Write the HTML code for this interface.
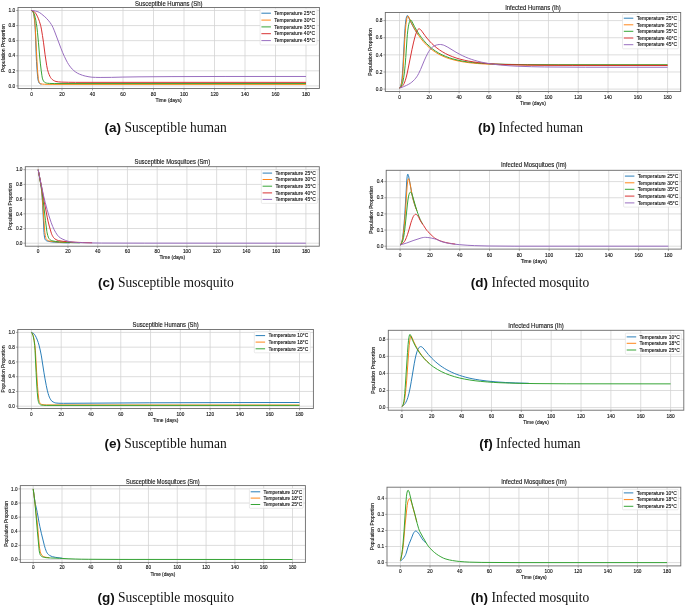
<!DOCTYPE html>
<html><head><meta charset="utf-8"><style>
html,body{margin:0;padding:0;background:#fff;width:685px;height:606px;overflow:hidden}
svg{display:block;font-family:"Liberation Sans",sans-serif;will-change:transform}
svg text{fill:#111}
svg g text{stroke:#111;stroke-width:0.11px}
</style></head><body>
<svg width="685" height="606" viewBox="0 0 685 606">
<rect width="685" height="606" fill="#fff"/>
<g><path d="M31.5 7.5V88.5M62 7.5V88.5M92.5 7.5V88.5M123 7.5V88.5M153.5 7.5V88.5M184 7.5V88.5M214.5 7.5V88.5M245 7.5V88.5M275.5 7.5V88.5M306 7.5V88.5M18 85.9H319.4M18 70.82H319.4M18 55.74H319.4M18 40.66H319.4M18 25.58H319.4M18 10.5H319.4" stroke="#d2d2d2" stroke-width="0.75" fill="none"/>
<path d="M31.50,10.50 31.96,10.67 32.41,11.11 33.02,12.01 33.33,12.79 33.71,14.41 34.09,16.53 34.63,20.93 35.01,25.58 35.24,29.64 35.69,40.66 36.15,53.94 36.53,61.70 37.14,70.82 37.60,76.23 37.91,78.97 38.06,79.87 38.44,81.42 38.74,82.34 39.05,82.94 39.58,83.47 40.12,83.83 40.57,84.00 41.49,84.15" stroke="#1f77b4" stroke-width="0.95" fill="none" stroke-linejoin="round"/>
<path d="M31.50,10.50 31.96,10.67 32.41,11.13 33.10,12.14 33.41,12.89 33.79,14.29 34.24,16.53 34.70,20.16 35.31,27.97 36.46,51.36 37.30,67.03 37.75,73.21 38.29,78.50 38.44,79.49 38.74,80.80 39.05,81.83 39.35,82.55 39.58,82.88 40.12,83.35 40.65,83.68 41.18,83.89 42.78,84.15 44.54,84.29 52.09,84.39 306.00,84.39" stroke="#ff7f0e" stroke-width="0.95" fill="none" stroke-linejoin="round"/>
<path d="M31.50,10.50 31.80,10.56 32.19,10.79 33.10,11.72 33.63,12.63 34.17,13.93 34.78,15.77 35.24,17.56 35.77,20.13 36.38,23.63 36.91,27.23 37.52,32.72 38.44,42.32 39.51,54.94 40.42,63.91 41.18,70.26 41.95,75.75 42.33,77.96 42.56,78.89 43.01,80.04 43.47,80.95 44.01,81.74 44.39,82.12 44.92,82.45 45.76,82.84 46.52,83.09 47.44,83.25 49.57,83.41 54.22,83.56 306.00,83.56" stroke="#2ca02c" stroke-width="0.95" fill="none" stroke-linejoin="round"/>
<path d="M31.50,10.50 32.11,10.58 32.72,10.81 33.41,11.19 34.24,11.78 34.70,12.13 35.08,12.53 36.00,13.84 37.30,16.18 38.44,18.75 39.51,21.70 40.57,25.30 40.95,26.84 41.41,29.10 42.48,35.59 43.55,42.81 45.07,54.70 46.67,65.29 47.51,69.67 48.43,72.72 49.11,74.56 49.88,76.27 50.56,77.50 51.33,78.54 52.24,79.49 53.23,80.25 54.68,81.01 55.98,81.49 58.49,81.88 61.39,82.11 68.33,82.28 75.50,82.35 306.00,82.36" stroke="#d62728" stroke-width="0.95" fill="none" stroke-linejoin="round"/>
<path d="M31.50,10.50 33.41,10.64 35.54,11.07 37.91,11.73 39.35,12.43 41.34,13.83 44.77,16.71 46.83,18.71 48.73,20.87 50.11,22.65 51.40,24.54 52.16,25.82 52.93,27.36 54.38,30.85 61.16,48.84 62.69,52.67 64.44,56.55 66.12,60.03 67.49,62.62 68.79,64.76 70.54,67.16 72.29,69.19 73.82,70.63 75.80,72.14 77.71,73.31 79.69,74.23 82.51,75.29 85.18,76.06 88.99,76.81 91.89,77.21 95.55,77.38 100.12,77.46 111.56,77.37 122.24,77.09 139.01,76.84 171.04,76.60 225.94,76.48 306.00,76.48" stroke="#9467bd" stroke-width="0.95" fill="none" stroke-linejoin="round"/>
<rect x="18" y="7.5" width="301.4" height="81" fill="none" stroke="#6a6a6a" stroke-width="0.9"/>
<path d="M31.5 88.5v1.8M62 88.5v1.8M92.5 88.5v1.8M123 88.5v1.8M153.5 88.5v1.8M184 88.5v1.8M214.5 88.5v1.8M245 88.5v1.8M275.5 88.5v1.8M306 88.5v1.8M18 85.9h-1.8M18 70.82h-1.8M18 55.74h-1.8M18 40.66h-1.8M18 25.58h-1.8M18 10.5h-1.8" stroke="#6a6a6a" stroke-width="0.6"/>
<text x="31.5" y="95.5" text-anchor="middle" font-size="4.85">0</text>
<text x="62" y="95.5" text-anchor="middle" font-size="4.85">20</text>
<text x="92.5" y="95.5" text-anchor="middle" font-size="4.85">40</text>
<text x="123" y="95.5" text-anchor="middle" font-size="4.85">60</text>
<text x="153.5" y="95.5" text-anchor="middle" font-size="4.85">80</text>
<text x="184" y="95.5" text-anchor="middle" font-size="4.85">100</text>
<text x="214.5" y="95.5" text-anchor="middle" font-size="4.85">120</text>
<text x="245" y="95.5" text-anchor="middle" font-size="4.85">140</text>
<text x="275.5" y="95.5" text-anchor="middle" font-size="4.85">160</text>
<text x="306" y="95.5" text-anchor="middle" font-size="4.85">180</text>
<text x="15.2" y="87.6" text-anchor="end" font-size="4.85">0.0</text>
<text x="15.2" y="72.52" text-anchor="end" font-size="4.85">0.2</text>
<text x="15.2" y="57.44" text-anchor="end" font-size="4.85">0.4</text>
<text x="15.2" y="42.36" text-anchor="end" font-size="4.85">0.6</text>
<text x="15.2" y="27.28" text-anchor="end" font-size="4.85">0.8</text>
<text x="15.2" y="12.2" text-anchor="end" font-size="4.85">1.0</text>
<text x="168.7" y="5.5" text-anchor="middle" font-size="6.6" textLength="67.5" lengthAdjust="spacingAndGlyphs">Susceptible Humans (Sh)</text>
<text x="168.7" y="101.6" text-anchor="middle" font-size="5">Time (days)</text>
<text transform="translate(4.6 48) rotate(-90)" text-anchor="middle" font-size="5">Population Proportion</text>
<rect x="260.1" y="8.8" width="56.9" height="36.2" rx="1" fill="#fff" fill-opacity="0.85" stroke="#dcdcdc" stroke-width="0.6"/>
<path d="M261.4 13.2H270.9" stroke="#1f77b4" stroke-width="0.95"/>
<text x="274.3" y="14.95" font-size="4.9" textLength="40.8" lengthAdjust="spacingAndGlyphs">Temperature 25°C</text>
<path d="M261.4 20.1H270.9" stroke="#ff7f0e" stroke-width="0.95"/>
<text x="274.3" y="21.85" font-size="4.9" textLength="40.8" lengthAdjust="spacingAndGlyphs">Temperature 30°C</text>
<path d="M261.4 26.9H270.9" stroke="#2ca02c" stroke-width="0.95"/>
<text x="274.3" y="28.65" font-size="4.9" textLength="40.8" lengthAdjust="spacingAndGlyphs">Temperature 35°C</text>
<path d="M261.4 33.7H270.9" stroke="#d62728" stroke-width="0.95"/>
<text x="274.3" y="35.45" font-size="4.9" textLength="40.8" lengthAdjust="spacingAndGlyphs">Temperature 40°C</text>
<path d="M261.4 40.6H270.9" stroke="#9467bd" stroke-width="0.95"/>
<text x="274.3" y="42.35" font-size="4.9" textLength="40.8" lengthAdjust="spacingAndGlyphs">Temperature 45°C</text></g>
<g><path d="M399.5 12.5V91.5M429.29 12.5V91.5M459.08 12.5V91.5M488.87 12.5V91.5M518.66 12.5V91.5M548.44 12.5V91.5M578.23 12.5V91.5M608.02 12.5V91.5M637.81 12.5V91.5M667.6 12.5V91.5M385.3 89.1H680.7M385.3 71.97H680.7M385.3 54.85H680.7M385.3 37.72H680.7M385.3 20.6H680.7" stroke="#d2d2d2" stroke-width="0.75" fill="none"/>
<path d="M399.50,88.06 399.87,87.74 400.24,87.15 400.62,86.27 400.99,85.06 401.59,82.12 402.03,78.47 402.48,73.12 402.93,66.21 404.34,39.27 405.01,28.71 405.38,24.36 405.76,21.06 406.20,18.28 406.65,16.53 406.95,15.83 407.25,15.50 407.39,15.47 407.54,15.53 407.84,15.88 410.60,21.74 412.90,26.24 415.44,30.69 417.97,34.67" stroke="#1f77b4" stroke-width="0.95" fill="none" stroke-linejoin="round"/>
<path d="M399.50,88.10 399.95,87.79 400.32,87.31 400.77,86.42 401.14,85.41 401.73,83.00 402.18,80.00 402.63,75.54 403.15,68.51 404.79,39.23 405.16,33.45 405.61,27.78 406.13,22.82 406.72,19.03 407.02,17.78 407.32,16.90 407.69,16.24 407.99,16.06 408.14,16.08 408.36,16.26 408.73,16.87 411.34,22.65 414.02,27.89 416.18,31.65 418.42,35.15 420.87,38.57 423.48,41.79 426.38,44.92 429.21,47.57 432.27,50.05 435.62,52.34 439.04,54.36 442.54,56.06 446.27,57.61 449.77,58.81 454.98,60.24 459.82,61.30 464.29,62.04 468.76,62.66 473.23,63.17 477.70,63.54 485.14,64.02 491.85,64.35 497.06,64.53 508.23,64.77 524.61,64.98 554.40,65.09 667.60,65.12" stroke="#ff7f0e" stroke-width="0.95" fill="none" stroke-linejoin="round"/>
<path d="M399.50,88.08 400.17,87.71 400.77,87.08 401.36,86.15 401.96,84.87 402.40,83.61 402.85,81.96 403.67,77.74 404.49,71.82 405.16,65.28 405.76,57.58 407.02,38.69 407.39,34.28 407.84,30.13 408.44,26.12 408.81,24.26 409.18,22.79 409.55,21.65 409.93,20.83 410.30,20.31 410.67,20.10 410.89,20.12 411.12,20.25 411.64,20.91 414.39,26.32 416.55,30.19 419.01,34.11 421.54,37.69 424.08,40.85 426.61,43.64 429.36,46.31 432.19,48.69 435.25,50.93 438.60,53.00 442.02,54.83 445.60,56.41 449.32,57.81 452.90,58.91 458.04,60.20 462.80,61.16 467.27,61.85 472.48,62.51 476.95,62.96 481.42,63.29 488.87,63.74 495.57,64.04 511.95,64.43 527.59,64.62 558.13,64.74 667.60,64.78" stroke="#2ca02c" stroke-width="0.95" fill="none" stroke-linejoin="round"/>
<path d="M399.50,87.92 400.47,87.57 401.29,87.11 402.11,86.43 402.85,85.59 403.52,84.59 404.12,83.47 404.71,82.09 405.31,80.43 406.28,77.08 407.25,73.01 411.94,49.67 413.43,42.94 414.69,37.84 415.88,33.79 416.41,32.33 416.93,31.11 417.45,30.14 417.97,29.44 418.49,29.01 419.01,28.84 419.46,28.89 419.91,29.10 420.43,29.50 420.95,30.04 421.92,31.27 425.04,35.67 426.91,38.08 429.36,40.95 431.90,43.59 434.35,45.88 436.89,47.97 439.57,49.95 442.32,51.74 445.52,53.54 448.95,55.22 452.38,56.64 456.10,57.97 459.82,59.09 464.29,60.20 468.76,61.12 473.23,61.87 478.44,62.58 483.65,63.15 488.12,63.54 494.82,63.99 500.78,64.32 506.74,64.57 525.36,65.03 541.00,65.23 572.28,65.39 667.60,65.46" stroke="#d62728" stroke-width="0.95" fill="none" stroke-linejoin="round"/>
<path d="M399.50,88.07 400.99,87.68 403.30,86.79 406.50,85.38 408.73,84.24 410.30,83.27 411.79,82.17 413.20,80.93 414.54,79.56 415.73,78.16 416.78,76.76 417.75,75.23 418.64,73.60 420.58,69.47 424.15,60.89 425.94,56.86 427.80,53.19 428.69,51.65 429.59,50.29 430.55,49.02 431.60,47.89 432.71,46.90 433.76,46.18 434.95,45.57 436.29,45.09 437.78,44.71 439.19,44.51 440.61,44.51 442.02,44.71 443.44,45.09 444.85,45.66 447.83,47.23 456.02,52.24 459.82,54.35 462.80,55.83 465.78,57.18 468.76,58.39 471.74,59.45 474.72,60.40 477.70,61.23 481.42,62.13 485.14,62.92 488.12,63.45 492.59,64.11 497.06,64.68 500.78,65.08 508.97,65.75 517.17,66.22 531.32,66.69 544.72,66.96 585.68,67.22 667.60,67.26" stroke="#9467bd" stroke-width="0.95" fill="none" stroke-linejoin="round"/>
<rect x="385.3" y="12.5" width="295.4" height="79" fill="none" stroke="#6a6a6a" stroke-width="0.9"/>
<path d="M399.5 91.5v1.8M429.29 91.5v1.8M459.08 91.5v1.8M488.87 91.5v1.8M518.66 91.5v1.8M548.44 91.5v1.8M578.23 91.5v1.8M608.02 91.5v1.8M637.81 91.5v1.8M667.6 91.5v1.8M385.3 89.1h-1.8M385.3 71.97h-1.8M385.3 54.85h-1.8M385.3 37.72h-1.8M385.3 20.6h-1.8" stroke="#6a6a6a" stroke-width="0.6"/>
<text x="399.5" y="98.6" text-anchor="middle" font-size="4.8">0</text>
<text x="429.29" y="98.6" text-anchor="middle" font-size="4.8">20</text>
<text x="459.08" y="98.6" text-anchor="middle" font-size="4.8">40</text>
<text x="488.87" y="98.6" text-anchor="middle" font-size="4.8">60</text>
<text x="518.66" y="98.6" text-anchor="middle" font-size="4.8">80</text>
<text x="548.44" y="98.6" text-anchor="middle" font-size="4.8">100</text>
<text x="578.23" y="98.6" text-anchor="middle" font-size="4.8">120</text>
<text x="608.02" y="98.6" text-anchor="middle" font-size="4.8">140</text>
<text x="637.81" y="98.6" text-anchor="middle" font-size="4.8">160</text>
<text x="667.6" y="98.6" text-anchor="middle" font-size="4.8">180</text>
<text x="382.5" y="90.8" text-anchor="end" font-size="4.8">0.0</text>
<text x="382.5" y="73.67" text-anchor="end" font-size="4.8">0.2</text>
<text x="382.5" y="56.55" text-anchor="end" font-size="4.8">0.4</text>
<text x="382.5" y="39.42" text-anchor="end" font-size="4.8">0.6</text>
<text x="382.5" y="22.3" text-anchor="end" font-size="4.8">0.8</text>
<text x="533" y="9.5" text-anchor="middle" font-size="6.53" textLength="55.7" lengthAdjust="spacingAndGlyphs">Infected Humans (Ih)</text>
<text x="533" y="104.8" text-anchor="middle" font-size="4.95">Time (days)</text>
<text transform="translate(371.8 52) rotate(-90)" text-anchor="middle" font-size="4.95">Population Proportion</text>
<rect x="622.5" y="14.3" width="55.9" height="34.5" rx="1" fill="#fff" fill-opacity="0.85" stroke="#dcdcdc" stroke-width="0.6"/>
<path d="M623.8 18.2H633.3" stroke="#1f77b4" stroke-width="0.95"/>
<text x="636.7" y="19.95" font-size="4.85" textLength="40.4" lengthAdjust="spacingAndGlyphs">Temperature 25°C</text>
<path d="M623.8 24.8H633.3" stroke="#ff7f0e" stroke-width="0.95"/>
<text x="636.7" y="26.55" font-size="4.85" textLength="40.4" lengthAdjust="spacingAndGlyphs">Temperature 30°C</text>
<path d="M623.8 31.3H633.3" stroke="#2ca02c" stroke-width="0.95"/>
<text x="636.7" y="33.05" font-size="4.85" textLength="40.4" lengthAdjust="spacingAndGlyphs">Temperature 35°C</text>
<path d="M623.8 38H633.3" stroke="#d62728" stroke-width="0.95"/>
<text x="636.7" y="39.75" font-size="4.85" textLength="40.4" lengthAdjust="spacingAndGlyphs">Temperature 40°C</text>
<path d="M623.8 44.7H633.3" stroke="#9467bd" stroke-width="0.95"/>
<text x="636.7" y="46.45" font-size="4.85" textLength="40.4" lengthAdjust="spacingAndGlyphs">Temperature 45°C</text></g>
<g><path d="M38.2 166.7V246.2M67.94 166.7V246.2M97.69 166.7V246.2M127.43 166.7V246.2M157.18 166.7V246.2M186.92 166.7V246.2M216.67 166.7V246.2M246.41 166.7V246.2M276.16 166.7V246.2M305.9 166.7V246.2M25.3 243.2H319.3M25.3 228.5H319.3M25.3 213.8H319.3M25.3 199.1H319.3M25.3 184.4H319.3M25.3 169.7H319.3" stroke="#d2d2d2" stroke-width="0.75" fill="none"/>
<path d="M38.20,169.70 40.65,183.67 41.25,187.83 41.69,191.73 42.14,197.12 42.66,205.25 44.00,232.64 44.15,234.38 44.52,237.18 44.74,238.30 45.04,239.15 45.34,239.73 45.71,240.22 46.08,240.50 46.68,240.80 48.16,241.26 51.36,241.90 54.19,242.19 59.62,242.54 64.45,242.75 69.80,242.86" stroke="#1f77b4" stroke-width="0.95" fill="none" stroke-linejoin="round"/>
<path d="M38.20,169.70 40.65,183.76 41.40,188.35 41.77,191.16 42.29,197.18 44.67,230.78 44.89,232.76 45.34,235.59 45.71,237.44 46.01,238.48 46.23,238.94 46.60,239.41 47.05,239.88 47.57,240.30 48.54,240.78 50.02,241.15 52.33,241.50 57.31,241.98 61.92,242.33 66.38,242.56" stroke="#ff7f0e" stroke-width="0.95" fill="none" stroke-linejoin="round"/>
<path d="M38.20,169.70 40.80,184.29 41.69,188.78 41.99,190.62 45.49,220.67 46.83,231.36 47.12,232.93 47.79,235.55 48.31,237.14 48.83,238.28 49.28,238.89 49.95,239.59 50.54,240.07 51.14,240.42 51.66,240.62 52.92,240.95 55.45,241.43 59.69,241.88 67.13,242.40 73.15,242.67 79.84,242.82" stroke="#2ca02c" stroke-width="0.95" fill="none" stroke-linejoin="round"/>
<path d="M38.20,169.70 39.76,177.78 41.25,184.91 44.15,201.19 47.20,217.11 48.02,221.05 49.28,226.08 51.36,233.27 51.81,234.46 52.25,235.37 52.92,236.57 53.59,237.58 54.19,238.28 54.86,238.84 55.97,239.57 57.09,240.13 58.57,240.61 62.07,241.20 66.98,241.70 75.75,242.26 82.67,242.55 92.11,242.77" stroke="#d62728" stroke-width="0.95" fill="none" stroke-linejoin="round"/>
<path d="M38.20,169.70 40.13,179.55 42.29,189.83 43.78,196.54 45.19,202.32 47.12,209.54 48.98,215.88 51.06,222.25 52.70,226.51 54.11,229.65 55.67,232.45 57.31,234.98 57.98,235.83 58.65,236.55 60.29,237.84 62.14,238.92 65.49,240.40 68.09,241.29 69.58,241.63 72.33,242.04 75.01,242.33 77.69,242.52 88.25,242.89 101.41,243.05 144.54,243.15 305.90,243.20" stroke="#9467bd" stroke-width="0.95" fill="none" stroke-linejoin="round"/>
<rect x="25.3" y="166.7" width="294" height="79.5" fill="none" stroke="#6a6a6a" stroke-width="0.9"/>
<path d="M38.2 246.2v1.8M67.94 246.2v1.8M97.69 246.2v1.8M127.43 246.2v1.8M157.18 246.2v1.8M186.92 246.2v1.8M216.67 246.2v1.8M246.41 246.2v1.8M276.16 246.2v1.8M305.9 246.2v1.8M25.3 243.2h-1.8M25.3 228.5h-1.8M25.3 213.8h-1.8M25.3 199.1h-1.8M25.3 184.4h-1.8M25.3 169.7h-1.8" stroke="#6a6a6a" stroke-width="0.6"/>
<text x="38.2" y="252.8" text-anchor="middle" font-size="4.78">0</text>
<text x="67.94" y="252.8" text-anchor="middle" font-size="4.78">20</text>
<text x="97.69" y="252.8" text-anchor="middle" font-size="4.78">40</text>
<text x="127.43" y="252.8" text-anchor="middle" font-size="4.78">60</text>
<text x="157.18" y="252.8" text-anchor="middle" font-size="4.78">80</text>
<text x="186.92" y="252.8" text-anchor="middle" font-size="4.78">100</text>
<text x="216.67" y="252.8" text-anchor="middle" font-size="4.78">120</text>
<text x="246.41" y="252.8" text-anchor="middle" font-size="4.78">140</text>
<text x="276.16" y="252.8" text-anchor="middle" font-size="4.78">160</text>
<text x="305.9" y="252.8" text-anchor="middle" font-size="4.78">180</text>
<text x="22.5" y="244.9" text-anchor="end" font-size="4.78">0.0</text>
<text x="22.5" y="230.2" text-anchor="end" font-size="4.78">0.2</text>
<text x="22.5" y="215.5" text-anchor="end" font-size="4.78">0.4</text>
<text x="22.5" y="200.8" text-anchor="end" font-size="4.78">0.6</text>
<text x="22.5" y="186.1" text-anchor="end" font-size="4.78">0.8</text>
<text x="22.5" y="171.4" text-anchor="end" font-size="4.78">1.0</text>
<text x="172.3" y="164.2" text-anchor="middle" font-size="6.5" textLength="75.6" lengthAdjust="spacingAndGlyphs">Susceptible Mosquitoes (Sm)</text>
<text x="172.3" y="259.2" text-anchor="middle" font-size="4.92">Time (days)</text>
<text transform="translate(11.8 206.45) rotate(-90)" text-anchor="middle" font-size="4.92">Population Proportion</text>
<rect x="261.3" y="169.9" width="56.1" height="33.5" rx="1" fill="#fff" fill-opacity="0.85" stroke="#dcdcdc" stroke-width="0.6"/>
<path d="M262.6 173.1H272.1" stroke="#1f77b4" stroke-width="0.95"/>
<text x="275.5" y="174.85" font-size="4.83" textLength="40.2" lengthAdjust="spacingAndGlyphs">Temperature 25°C</text>
<path d="M262.6 179.5H272.1" stroke="#ff7f0e" stroke-width="0.95"/>
<text x="275.5" y="181.25" font-size="4.83" textLength="40.2" lengthAdjust="spacingAndGlyphs">Temperature 30°C</text>
<path d="M262.6 186.2H272.1" stroke="#2ca02c" stroke-width="0.95"/>
<text x="275.5" y="187.95" font-size="4.83" textLength="40.2" lengthAdjust="spacingAndGlyphs">Temperature 35°C</text>
<path d="M262.6 192.9H272.1" stroke="#d62728" stroke-width="0.95"/>
<text x="275.5" y="194.65" font-size="4.83" textLength="40.2" lengthAdjust="spacingAndGlyphs">Temperature 40°C</text>
<path d="M262.6 199.4H272.1" stroke="#9467bd" stroke-width="0.95"/>
<text x="275.5" y="201.15" font-size="4.83" textLength="40.2" lengthAdjust="spacingAndGlyphs">Temperature 45°C</text></g>
<g><path d="M400.1 170.3V249.1M429.91 170.3V249.1M459.72 170.3V249.1M489.53 170.3V249.1M519.34 170.3V249.1M549.16 170.3V249.1M578.97 170.3V249.1M608.78 170.3V249.1M638.59 170.3V249.1M668.4 170.3V249.1M386.2 246.2H681.3M386.2 230.05H681.3M386.2 213.9H681.3M386.2 197.75H681.3M386.2 181.6H681.3" stroke="#d2d2d2" stroke-width="0.75" fill="none"/>
<path d="M400.10,244.85 400.55,244.54 400.99,243.82 401.52,242.51 402.04,240.77 402.34,239.50 402.63,237.80 403.23,232.89 404.12,223.49 404.87,213.63 406.81,180.10 407.18,176.35 407.40,175.03 407.63,174.33 407.70,174.22 407.85,174.17 408.00,174.32 408.15,174.62 408.45,175.52 408.82,177.03 411.88,193.65 412.99,198.96 414.33,203.78 416.12,208.93" stroke="#1f77b4" stroke-width="0.95" fill="none" stroke-linejoin="round"/>
<path d="M400.10,244.86 400.40,244.71 400.62,244.50 401.07,243.79 401.59,242.55 402.11,240.96 402.48,239.56 402.78,238.06 403.38,233.83 404.27,225.75 405.09,216.56 405.62,209.40 406.73,191.89 407.25,184.95 407.70,181.12 407.93,179.95 408.22,179.00 408.45,178.72 408.60,178.73 408.75,178.88 409.12,179.69 409.49,180.92 410.09,183.71 411.95,194.33 412.70,197.81 413.37,200.30 414.48,203.94 416.94,211.06" stroke="#ff7f0e" stroke-width="0.95" fill="none" stroke-linejoin="round"/>
<path d="M400.10,244.87 400.55,244.70 400.99,244.27 401.44,243.61 401.89,242.74 402.93,240.09 403.30,238.78 403.60,237.39 404.35,232.70 405.09,226.89 407.33,204.99 407.93,200.06 408.45,196.93 408.97,194.61 409.49,193.18 409.86,192.55 410.16,192.22 410.53,192.06 410.76,192.14 410.98,192.34 411.50,193.15 412.02,194.30 412.55,195.85 415.97,207.83 417.84,213.48 419.18,217.07 420.22,219.54 421.27,221.60 422.76,224.15" stroke="#2ca02c" stroke-width="0.95" fill="none" stroke-linejoin="round"/>
<path d="M400.10,244.89 400.70,244.79 401.22,244.58 401.81,244.22 402.48,243.66 403.38,242.75 404.35,241.61 404.87,240.87 405.32,240.06 406.43,237.45 407.55,234.37 408.97,229.77 410.91,222.85 411.65,220.60 412.55,218.19 413.29,216.55 413.96,215.53 414.86,214.61 415.23,214.39 415.60,214.30 416.12,214.41 416.72,214.78 417.39,215.39 417.99,216.14 418.88,217.64 420.37,220.65 421.27,222.23 421.94,223.23 423.50,225.33 425.74,228.89 426.78,230.35 427.90,231.60 432.30,235.96 433.49,237.07 434.53,237.92 436.17,238.97 438.18,239.98 440.72,241.01 443.33,241.88 445.64,242.48 448.54,243.08 451.60,243.58 455.33,244.07" stroke="#d62728" stroke-width="0.95" fill="none" stroke-linejoin="round"/>
<path d="M400.10,244.86 402.71,244.22 406.51,243.07 413.07,240.61 421.12,237.98 422.09,237.72 423.35,237.49 424.40,237.36 425.29,237.33 427.23,237.44 429.02,237.66 431.85,238.20 434.83,238.90 436.92,239.54 439.97,241.03 442.06,241.77 445.41,242.67 449.51,243.50 454.06,244.13 459.20,244.65 467.92,245.30 474.63,245.63 488.04,245.99 514.13,246.19 668.40,246.20" stroke="#9467bd" stroke-width="0.95" fill="none" stroke-linejoin="round"/>
<rect x="386.2" y="170.3" width="295.1" height="78.8" fill="none" stroke="#6a6a6a" stroke-width="0.9"/>
<path d="M400.1 249.1v1.8M429.91 249.1v1.8M459.72 249.1v1.8M489.53 249.1v1.8M519.34 249.1v1.8M549.16 249.1v1.8M578.97 249.1v1.8M608.78 249.1v1.8M638.59 249.1v1.8M668.4 249.1v1.8M386.2 246.2h-1.8M386.2 230.05h-1.8M386.2 213.9h-1.8M386.2 197.75h-1.8M386.2 181.6h-1.8" stroke="#6a6a6a" stroke-width="0.6"/>
<text x="400.1" y="256.5" text-anchor="middle" font-size="4.85">0</text>
<text x="429.91" y="256.5" text-anchor="middle" font-size="4.85">20</text>
<text x="459.72" y="256.5" text-anchor="middle" font-size="4.85">40</text>
<text x="489.53" y="256.5" text-anchor="middle" font-size="4.85">60</text>
<text x="519.34" y="256.5" text-anchor="middle" font-size="4.85">80</text>
<text x="549.16" y="256.5" text-anchor="middle" font-size="4.85">100</text>
<text x="578.97" y="256.5" text-anchor="middle" font-size="4.85">120</text>
<text x="608.78" y="256.5" text-anchor="middle" font-size="4.85">140</text>
<text x="638.59" y="256.5" text-anchor="middle" font-size="4.85">160</text>
<text x="668.4" y="256.5" text-anchor="middle" font-size="4.85">180</text>
<text x="383.4" y="247.9" text-anchor="end" font-size="4.85">0.0</text>
<text x="383.4" y="231.75" text-anchor="end" font-size="4.85">0.1</text>
<text x="383.4" y="215.6" text-anchor="end" font-size="4.85">0.2</text>
<text x="383.4" y="199.45" text-anchor="end" font-size="4.85">0.3</text>
<text x="383.4" y="183.3" text-anchor="end" font-size="4.85">0.4</text>
<text x="533.75" y="167.4" text-anchor="middle" font-size="6.6" textLength="65.7" lengthAdjust="spacingAndGlyphs">Infected Mosquitoes (Im)</text>
<text x="533.75" y="262.9" text-anchor="middle" font-size="5">Time (days)</text>
<text transform="translate(372.6 209.7) rotate(-90)" text-anchor="middle" font-size="5">Population Proportion</text>
<rect x="623.6" y="172.7" width="55.9" height="34.4" rx="1" fill="#fff" fill-opacity="0.85" stroke="#dcdcdc" stroke-width="0.6"/>
<path d="M624.9 176.1H634.4" stroke="#1f77b4" stroke-width="0.95"/>
<text x="637.8" y="177.85" font-size="4.9" textLength="40.7" lengthAdjust="spacingAndGlyphs">Temperature 25°C</text>
<path d="M624.9 182.8H634.4" stroke="#ff7f0e" stroke-width="0.95"/>
<text x="637.8" y="184.55" font-size="4.9" textLength="40.7" lengthAdjust="spacingAndGlyphs">Temperature 30°C</text>
<path d="M624.9 189.3H634.4" stroke="#2ca02c" stroke-width="0.95"/>
<text x="637.8" y="191.05" font-size="4.9" textLength="40.7" lengthAdjust="spacingAndGlyphs">Temperature 35°C</text>
<path d="M624.9 196.1H634.4" stroke="#d62728" stroke-width="0.95"/>
<text x="637.8" y="197.85" font-size="4.9" textLength="40.7" lengthAdjust="spacingAndGlyphs">Temperature 40°C</text>
<path d="M624.9 202.9H634.4" stroke="#9467bd" stroke-width="0.95"/>
<text x="637.8" y="204.65" font-size="4.9" textLength="40.7" lengthAdjust="spacingAndGlyphs">Temperature 45°C</text></g>
<g><path d="M31.4 329.5V408.5M61.19 329.5V408.5M90.98 329.5V408.5M120.77 329.5V408.5M150.56 329.5V408.5M180.34 329.5V408.5M210.13 329.5V408.5M239.92 329.5V408.5M269.71 329.5V408.5M299.5 329.5V408.5M17.8 406.2H313.4M17.8 391.44H313.4M17.8 376.68H313.4M17.8 361.92H313.4M17.8 347.16H313.4M17.8 332.4H313.4" stroke="#d2d2d2" stroke-width="0.75" fill="none"/>
<path d="M31.40,332.40 31.85,332.48 32.37,332.69 33.71,333.56 34.38,334.28 35.27,335.59 36.17,337.31 37.36,340.09 38.25,342.60 39.00,345.10 40.19,350.01 41.38,355.94 43.99,372.82 45.03,378.92 46.22,385.30 47.26,390.18 48.16,393.58 48.83,395.76 49.35,397.11 50.09,398.61 50.84,399.89 51.51,400.79 52.03,401.28 53.22,402.03 54.26,402.53 55.23,402.86 56.12,403.03 58.95,403.26 63.57,403.32 149.81,402.81 232.48,402.58 299.50,402.51" stroke="#1f77b4" stroke-width="0.95" fill="none" stroke-linejoin="round"/>
<path d="M31.40,332.40 31.77,332.59 32.22,333.22 32.89,334.61 33.19,335.50 33.63,337.44 34.30,341.02 34.97,345.75 35.35,350.03 36.61,371.92 37.58,386.81 38.18,393.80 38.77,399.11 39.00,400.30 39.29,401.38 39.67,402.48 40.04,403.25 40.34,403.62 40.86,404.00 41.45,404.32 42.05,404.54 44.06,404.83 46.29,404.95 299.50,405.02" stroke="#ff7f0e" stroke-width="0.95" fill="none" stroke-linejoin="round"/>
<path d="M31.40,332.40 31.85,332.92 32.29,333.81 32.96,335.57 33.34,336.88 34.08,340.67 34.68,345.51 35.05,350.71 36.09,372.44 36.84,386.01 37.28,392.33 37.95,399.27 38.33,401.32 38.70,402.53 39.15,403.59 39.44,404.05 39.82,404.40 40.41,404.81 40.93,405.03 43.32,405.29 46.22,405.39 299.50,405.39" stroke="#2ca02c" stroke-width="0.95" fill="none" stroke-linejoin="round"/>
<rect x="17.8" y="329.5" width="295.6" height="79" fill="none" stroke="#6a6a6a" stroke-width="0.9"/>
<path d="M31.4 408.5v1.8M61.19 408.5v1.8M90.98 408.5v1.8M120.77 408.5v1.8M150.56 408.5v1.8M180.34 408.5v1.8M210.13 408.5v1.8M239.92 408.5v1.8M269.71 408.5v1.8M299.5 408.5v1.8M17.8 406.2h-1.8M17.8 391.44h-1.8M17.8 376.68h-1.8M17.8 361.92h-1.8M17.8 347.16h-1.8M17.8 332.4h-1.8" stroke="#6a6a6a" stroke-width="0.6"/>
<text x="31.4" y="415.6" text-anchor="middle" font-size="4.73">0</text>
<text x="61.19" y="415.6" text-anchor="middle" font-size="4.73">20</text>
<text x="90.98" y="415.6" text-anchor="middle" font-size="4.73">40</text>
<text x="120.77" y="415.6" text-anchor="middle" font-size="4.73">60</text>
<text x="150.56" y="415.6" text-anchor="middle" font-size="4.73">80</text>
<text x="180.34" y="415.6" text-anchor="middle" font-size="4.73">100</text>
<text x="210.13" y="415.6" text-anchor="middle" font-size="4.73">120</text>
<text x="239.92" y="415.6" text-anchor="middle" font-size="4.73">140</text>
<text x="269.71" y="415.6" text-anchor="middle" font-size="4.73">160</text>
<text x="299.5" y="415.6" text-anchor="middle" font-size="4.73">180</text>
<text x="15" y="407.9" text-anchor="end" font-size="4.73">0.0</text>
<text x="15" y="393.14" text-anchor="end" font-size="4.73">0.2</text>
<text x="15" y="378.38" text-anchor="end" font-size="4.73">0.4</text>
<text x="15" y="363.62" text-anchor="end" font-size="4.73">0.6</text>
<text x="15" y="348.86" text-anchor="end" font-size="4.73">0.8</text>
<text x="15" y="334.1" text-anchor="end" font-size="4.73">1.0</text>
<text x="165.6" y="326.8" text-anchor="middle" font-size="6.43" textLength="66.2" lengthAdjust="spacingAndGlyphs">Susceptible Humans (Sh)</text>
<text x="165.6" y="421.6" text-anchor="middle" font-size="4.88">Time (days)</text>
<text transform="translate(4.6 369) rotate(-90)" text-anchor="middle" font-size="4.88">Population Proportion</text>
<rect x="254.3" y="331.7" width="56.1" height="21.1" rx="1" fill="#fff" fill-opacity="0.85" stroke="#dcdcdc" stroke-width="0.6"/>
<path d="M255.6 335.6H265.1" stroke="#1f77b4" stroke-width="0.95"/>
<text x="268.5" y="337.35" font-size="4.78" textLength="39.7" lengthAdjust="spacingAndGlyphs">Temperature 10°C</text>
<path d="M255.6 342.1H265.1" stroke="#ff7f0e" stroke-width="0.95"/>
<text x="268.5" y="343.85" font-size="4.78" textLength="39.7" lengthAdjust="spacingAndGlyphs">Temperature 18°C</text>
<path d="M255.6 348.8H265.1" stroke="#2ca02c" stroke-width="0.95"/>
<text x="268.5" y="350.55" font-size="4.78" textLength="39.7" lengthAdjust="spacingAndGlyphs">Temperature 25°C</text></g>
<g><path d="M401.9 330.3V410.2M431.76 330.3V410.2M461.61 330.3V410.2M491.47 330.3V410.2M521.32 330.3V410.2M551.18 330.3V410.2M581.03 330.3V410.2M610.89 330.3V410.2M640.74 330.3V410.2M670.6 330.3V410.2M388.3 407.6H683.8M388.3 390.53H683.8M388.3 373.45H683.8M388.3 356.38H683.8M388.3 339.3H683.8" stroke="#d2d2d2" stroke-width="0.75" fill="none"/>
<path d="M401.90,406.29 402.80,405.88 403.62,405.30 404.44,404.49 405.18,403.51 405.93,402.26 406.60,400.87 407.27,399.19 407.87,397.41 408.99,393.27 410.11,388.00 411.23,381.76 414.22,363.78 415.11,359.08 416.01,355.09 417.05,351.46 417.57,350.07 418.10,348.94 418.62,348.05 419.22,347.32 419.81,346.86 420.41,346.63 420.93,346.62 421.53,346.79 422.13,347.15 422.80,347.72 423.99,349.04 428.40,354.52 431.68,358.12 433.70,360.10 435.79,362.00 437.95,363.81 440.12,365.47 442.28,366.99 444.52,368.43 446.83,369.79 449.22,371.06 451.68,372.26 454.15,373.35 456.83,374.41 459.60,375.40 462.36,376.28 465.34,377.12 469.07,378.06 472.06,378.71 475.79,379.42 479.52,380.03 486.99,381.03 495.94,381.86 505.65,382.52 515.35,382.93 528.79,383.32" stroke="#1f77b4" stroke-width="0.95" fill="none" stroke-linejoin="round"/>
<path d="M401.90,406.60 402.42,406.22 402.87,405.58 403.32,404.64 403.77,403.39 404.14,402.03 404.44,400.63 405.11,396.16 405.93,388.58 406.68,380.15 408.54,353.87 409.21,345.63 409.59,342.05 409.96,339.29 410.41,337.07 410.78,336.13 410.93,335.98 411.16,335.98 411.53,336.47 413.54,341.27 415.41,345.17 417.42,348.86 419.66,352.42 421.83,355.43 424.14,358.25 426.53,360.82 429.14,363.29" stroke="#ff7f0e" stroke-width="0.95" fill="none" stroke-linejoin="round"/>
<path d="M401.90,406.56 402.27,406.25 402.65,405.71 403.02,404.90 403.32,404.01 403.84,401.67 404.29,398.39 404.74,393.64 405.18,387.72 407.50,352.42 408.10,344.61 408.54,340.26 408.99,337.18 409.21,336.08 409.51,335.04 409.74,334.60 409.96,334.44 410.11,334.48 410.26,334.62 410.56,335.16 412.65,340.37 413.69,342.68 414.81,344.95 416.75,348.49 418.92,351.93 421.46,355.42 424.22,358.69 427.13,361.66 430.19,364.36 431.98,365.77 433.70,367.03 437.35,369.38 441.23,371.52 445.41,373.45 449.74,375.15 454.37,376.63 459.60,378.03 464.60,379.09 469.82,380.00 475.05,380.76 480.27,381.33 487.73,381.99 493.71,382.41 498.93,382.69 509.38,383.07 519.08,383.35 537.00,383.60 566.11,383.79 670.60,383.86" stroke="#2ca02c" stroke-width="0.95" fill="none" stroke-linejoin="round"/>
<rect x="388.3" y="330.3" width="295.5" height="79.9" fill="none" stroke="#6a6a6a" stroke-width="0.9"/>
<path d="M401.9 410.2v1.8M431.76 410.2v1.8M461.61 410.2v1.8M491.47 410.2v1.8M521.32 410.2v1.8M551.18 410.2v1.8M581.03 410.2v1.8M610.89 410.2v1.8M640.74 410.2v1.8M670.6 410.2v1.8M388.3 407.6h-1.8M388.3 390.53h-1.8M388.3 373.45h-1.8M388.3 356.38h-1.8M388.3 339.3h-1.8" stroke="#6a6a6a" stroke-width="0.6"/>
<text x="401.9" y="417.8" text-anchor="middle" font-size="4.78">0</text>
<text x="431.76" y="417.8" text-anchor="middle" font-size="4.78">20</text>
<text x="461.61" y="417.8" text-anchor="middle" font-size="4.78">40</text>
<text x="491.47" y="417.8" text-anchor="middle" font-size="4.78">60</text>
<text x="521.32" y="417.8" text-anchor="middle" font-size="4.78">80</text>
<text x="551.18" y="417.8" text-anchor="middle" font-size="4.78">100</text>
<text x="581.03" y="417.8" text-anchor="middle" font-size="4.78">120</text>
<text x="610.89" y="417.8" text-anchor="middle" font-size="4.78">140</text>
<text x="640.74" y="417.8" text-anchor="middle" font-size="4.78">160</text>
<text x="670.6" y="417.8" text-anchor="middle" font-size="4.78">180</text>
<text x="385.5" y="409.3" text-anchor="end" font-size="4.78">0.0</text>
<text x="385.5" y="392.23" text-anchor="end" font-size="4.78">0.2</text>
<text x="385.5" y="375.15" text-anchor="end" font-size="4.78">0.4</text>
<text x="385.5" y="358.07" text-anchor="end" font-size="4.78">0.6</text>
<text x="385.5" y="341" text-anchor="end" font-size="4.78">0.8</text>
<text x="536.05" y="328" text-anchor="middle" font-size="6.5" textLength="55.5" lengthAdjust="spacingAndGlyphs">Infected Humans (Ih)</text>
<text x="536.05" y="424" text-anchor="middle" font-size="4.92">Time (days)</text>
<text transform="translate(374.5 370.25) rotate(-90)" text-anchor="middle" font-size="4.92">Population Proportion</text>
<rect x="625.4" y="333.2" width="55.9" height="21" rx="1" fill="#fff" fill-opacity="0.85" stroke="#dcdcdc" stroke-width="0.6"/>
<path d="M626.7 336.9H636.2" stroke="#1f77b4" stroke-width="0.95"/>
<text x="639.6" y="338.65" font-size="4.83" textLength="40.2" lengthAdjust="spacingAndGlyphs">Temperature 10°C</text>
<path d="M626.7 343.3H636.2" stroke="#ff7f0e" stroke-width="0.95"/>
<text x="639.6" y="345.05" font-size="4.83" textLength="40.2" lengthAdjust="spacingAndGlyphs">Temperature 18°C</text>
<path d="M626.7 350H636.2" stroke="#2ca02c" stroke-width="0.95"/>
<text x="639.6" y="351.75" font-size="4.83" textLength="40.2" lengthAdjust="spacingAndGlyphs">Temperature 25°C</text></g>
<g><path d="M33.2 485.6V562.4M62.01 485.6V562.4M90.82 485.6V562.4M119.63 485.6V562.4M148.44 485.6V562.4M177.26 485.6V562.4M206.07 485.6V562.4M234.88 485.6V562.4M263.69 485.6V562.4M292.5 485.6V562.4M20.3 559.5H305.4M20.3 545.38H305.4M20.3 531.26H305.4M20.3 517.14H305.4M20.3 503.02H305.4M20.3 488.9H305.4" stroke="#d2d2d2" stroke-width="0.75" fill="none"/>
<path d="M33.20,488.90 34.14,496.27 34.93,501.45 35.58,504.79 37.31,512.61 39.03,522.42 39.90,526.77 41.34,533.24 44.36,545.48 45.30,548.65 46.24,551.26 46.67,552.17 47.17,553.01 47.75,553.82 48.25,554.39 48.69,554.77 49.55,555.37 51.06,556.17 52.58,556.70 55.24,557.29 57.98,557.71 62.30,558.23" stroke="#1f77b4" stroke-width="0.95" fill="none" stroke-linejoin="round"/>
<path d="M33.20,488.90 34.50,498.99 36.08,513.24 37.31,522.90 39.32,546.07 39.61,548.39 40.19,551.30 40.62,552.92 41.05,554.01 41.99,555.36 42.92,556.25 43.72,556.68 45.37,557.16 47.10,557.48 49.19,557.71" stroke="#ff7f0e" stroke-width="0.95" fill="none" stroke-linejoin="round"/>
<path d="M33.20,488.90 34.14,495.81 35.14,505.03 37.45,531.86 39.18,550.56 39.75,553.39 40.11,554.58 40.40,555.21 40.98,555.84 41.70,556.41 42.49,556.85 43.36,557.15 44.72,557.44 46.38,557.68 50.56,557.98 59.49,558.28 68.06,558.74 75.26,559.02 81.46,559.19 88.73,559.27 118.91,559.43 292.50,559.50" stroke="#2ca02c" stroke-width="0.95" fill="none" stroke-linejoin="round"/>
<rect x="20.3" y="485.6" width="285.1" height="76.8" fill="none" stroke="#6a6a6a" stroke-width="0.9"/>
<path d="M33.2 562.4v1.8M62.01 562.4v1.8M90.82 562.4v1.8M119.63 562.4v1.8M148.44 562.4v1.8M177.26 562.4v1.8M206.07 562.4v1.8M234.88 562.4v1.8M263.69 562.4v1.8M292.5 562.4v1.8M20.3 559.5h-1.8M20.3 545.38h-1.8M20.3 531.26h-1.8M20.3 517.14h-1.8M20.3 503.02h-1.8M20.3 488.9h-1.8" stroke="#6a6a6a" stroke-width="0.6"/>
<text x="33.2" y="569.3" text-anchor="middle" font-size="4.61">0</text>
<text x="62.01" y="569.3" text-anchor="middle" font-size="4.61">20</text>
<text x="90.82" y="569.3" text-anchor="middle" font-size="4.61">40</text>
<text x="119.63" y="569.3" text-anchor="middle" font-size="4.61">60</text>
<text x="148.44" y="569.3" text-anchor="middle" font-size="4.61">80</text>
<text x="177.26" y="569.3" text-anchor="middle" font-size="4.61">100</text>
<text x="206.07" y="569.3" text-anchor="middle" font-size="4.61">120</text>
<text x="234.88" y="569.3" text-anchor="middle" font-size="4.61">140</text>
<text x="263.69" y="569.3" text-anchor="middle" font-size="4.61">160</text>
<text x="292.5" y="569.3" text-anchor="middle" font-size="4.61">180</text>
<text x="17.5" y="561.2" text-anchor="end" font-size="4.61">0.0</text>
<text x="17.5" y="547.08" text-anchor="end" font-size="4.61">0.2</text>
<text x="17.5" y="532.96" text-anchor="end" font-size="4.61">0.4</text>
<text x="17.5" y="518.84" text-anchor="end" font-size="4.61">0.6</text>
<text x="17.5" y="504.72" text-anchor="end" font-size="4.61">0.8</text>
<text x="17.5" y="490.6" text-anchor="end" font-size="4.61">1.0</text>
<text x="162.85" y="483.5" text-anchor="middle" font-size="6.27" textLength="73.6" lengthAdjust="spacingAndGlyphs">Susceptible Mosquitoes (Sm)</text>
<text x="162.85" y="575.9" text-anchor="middle" font-size="4.75">Time (days)</text>
<text transform="translate(7.7 524) rotate(-90)" text-anchor="middle" font-size="4.75">Population Proportion</text>
<rect x="249.4" y="488.4" width="53.8" height="19.9" rx="1" fill="#fff" fill-opacity="0.85" stroke="#dcdcdc" stroke-width="0.6"/>
<path d="M250.7 491.8H260.2" stroke="#1f77b4" stroke-width="0.95"/>
<text x="263.6" y="493.55" font-size="4.66" textLength="38.5" lengthAdjust="spacingAndGlyphs">Temperature 10°C</text>
<path d="M250.7 498.1H260.2" stroke="#ff7f0e" stroke-width="0.95"/>
<text x="263.6" y="499.85" font-size="4.66" textLength="38.5" lengthAdjust="spacingAndGlyphs">Temperature 18°C</text>
<path d="M250.7 504.5H260.2" stroke="#2ca02c" stroke-width="0.95"/>
<text x="263.6" y="506.25" font-size="4.66" textLength="38.5" lengthAdjust="spacingAndGlyphs">Temperature 25°C</text></g>
<g><path d="M400.4 487.2V565.9M430.03 487.2V565.9M459.67 487.2V565.9M489.3 487.2V565.9M518.93 487.2V565.9M548.57 487.2V565.9M578.2 487.2V565.9M607.83 487.2V565.9M637.47 487.2V565.9M667.1 487.2V565.9M387 562.6H680.8M387 546.52H680.8M387 530.45H680.8M387 514.38H680.8M387 498.3H680.8" stroke="#d2d2d2" stroke-width="0.75" fill="none"/>
<path d="M400.40,560.89 400.92,560.65 401.51,560.25 402.25,559.62 402.92,558.93 404.25,557.21 405.29,555.43 405.73,554.43 406.18,553.21 407.96,547.07 409.22,543.61 411.22,538.82 413.14,533.90 413.59,533.03 414.03,532.32 414.55,531.67 414.99,531.26 415.51,531.05 416.11,531.12 416.85,531.52 417.59,532.15 418.40,533.10 419.37,534.42 422.11,538.78 423.29,540.43 424.25,541.47 425.66,542.51 426.18,542.98" stroke="#1f77b4" stroke-width="0.95" fill="none" stroke-linejoin="round"/>
<path d="M400.40,560.44 400.62,559.90 400.92,558.90 401.66,555.61 402.47,551.32 402.99,547.88 403.59,542.31 405.07,525.08 406.77,508.92 407.22,505.32 407.59,503.02 408.03,501.09 408.48,499.76 408.70,499.29 408.99,498.91 409.29,498.78 409.66,498.89 410.03,499.20 410.40,499.71 411.07,501.19 411.73,503.30 414.70,514.06 416.77,522.05" stroke="#ff7f0e" stroke-width="0.95" fill="none" stroke-linejoin="round"/>
<path d="M400.40,560.43 400.70,559.62 400.99,558.43 401.73,554.40 402.40,549.56 402.99,544.02 404.03,531.26 405.81,503.74 406.40,496.79 406.77,493.94 407.14,492.04 407.59,490.74 407.81,490.40 408.10,490.24 408.40,490.42 408.70,490.90 409.07,491.81 409.51,493.23 412.40,505.17 414.85,514.13 417.14,523.27 418.55,528.28 419.14,530.00 419.81,531.54 423.00,537.35 425.81,542.21 427.44,544.89 428.33,546.21 429.07,547.15 430.03,548.23 433.14,551.31 434.70,552.65 436.70,554.20 438.26,555.27 440.11,556.39 442.03,557.45 443.66,558.23 445.07,558.76 447.00,559.35 449.67,560.01 452.48,560.55 456.11,561.09 459.59,561.47 464.85,561.87 469.30,562.12 481.89,562.41 515.97,562.60 667.10,562.60" stroke="#2ca02c" stroke-width="0.95" fill="none" stroke-linejoin="round"/>
<rect x="387" y="487.2" width="293.8" height="78.7" fill="none" stroke="#6a6a6a" stroke-width="0.9"/>
<path d="M400.4 565.9v1.8M430.03 565.9v1.8M459.67 565.9v1.8M489.3 565.9v1.8M518.93 565.9v1.8M548.57 565.9v1.8M578.2 565.9v1.8M607.83 565.9v1.8M637.47 565.9v1.8M667.1 565.9v1.8M387 562.6h-1.8M387 546.52h-1.8M387 530.45h-1.8M387 514.38h-1.8M387 498.3h-1.8" stroke="#6a6a6a" stroke-width="0.6"/>
<text x="400.4" y="572.9" text-anchor="middle" font-size="4.78">0</text>
<text x="430.03" y="572.9" text-anchor="middle" font-size="4.78">20</text>
<text x="459.67" y="572.9" text-anchor="middle" font-size="4.78">40</text>
<text x="489.3" y="572.9" text-anchor="middle" font-size="4.78">60</text>
<text x="518.93" y="572.9" text-anchor="middle" font-size="4.78">80</text>
<text x="548.57" y="572.9" text-anchor="middle" font-size="4.78">100</text>
<text x="578.2" y="572.9" text-anchor="middle" font-size="4.78">120</text>
<text x="607.83" y="572.9" text-anchor="middle" font-size="4.78">140</text>
<text x="637.47" y="572.9" text-anchor="middle" font-size="4.78">160</text>
<text x="667.1" y="572.9" text-anchor="middle" font-size="4.78">180</text>
<text x="384.2" y="564.3" text-anchor="end" font-size="4.78">0.0</text>
<text x="384.2" y="548.23" text-anchor="end" font-size="4.78">0.1</text>
<text x="384.2" y="532.15" text-anchor="end" font-size="4.78">0.2</text>
<text x="384.2" y="516.08" text-anchor="end" font-size="4.78">0.3</text>
<text x="384.2" y="500" text-anchor="end" font-size="4.78">0.4</text>
<text x="533.9" y="484.3" text-anchor="middle" font-size="6.5" textLength="65.5" lengthAdjust="spacingAndGlyphs">Infected Mosquitoes (Im)</text>
<text x="533.9" y="579.4" text-anchor="middle" font-size="4.92">Time (days)</text>
<text transform="translate(373.6 526.55) rotate(-90)" text-anchor="middle" font-size="4.92">Population Proportion</text>
<rect x="622.5" y="489.4" width="55.8" height="20.4" rx="1" fill="#fff" fill-opacity="0.85" stroke="#dcdcdc" stroke-width="0.6"/>
<path d="M623.8 492.9H633.3" stroke="#1f77b4" stroke-width="0.95"/>
<text x="636.7" y="494.65" font-size="4.83" textLength="40.2" lengthAdjust="spacingAndGlyphs">Temperature 10°C</text>
<path d="M623.8 499.6H633.3" stroke="#ff7f0e" stroke-width="0.95"/>
<text x="636.7" y="501.35" font-size="4.83" textLength="40.2" lengthAdjust="spacingAndGlyphs">Temperature 18°C</text>
<path d="M623.8 506.3H633.3" stroke="#2ca02c" stroke-width="0.95"/>
<text x="636.7" y="508.05" font-size="4.83" textLength="40.2" lengthAdjust="spacingAndGlyphs">Temperature 25°C</text></g>
<text x="104.55" y="131.7" font-size="13.5" font-family="Liberation Sans" font-weight="bold">(a)</text>
<text x="124.42" y="131.7" font-size="14.2" font-family="Liberation Serif" textLength="102.36" lengthAdjust="spacingAndGlyphs">Susceptible human</text>
<text x="477.95" y="131.7" font-size="13.5" font-family="Liberation Sans" font-weight="bold">(b)</text>
<text x="498.56" y="131.7" font-size="14.2" font-family="Liberation Serif" textLength="84.34" lengthAdjust="spacingAndGlyphs">Infected human</text>
<text x="98.05" y="286.8" font-size="13.5" font-family="Liberation Sans" font-weight="bold">(c)</text>
<text x="117.92" y="286.8" font-size="14.2" font-family="Liberation Serif" textLength="115.87" lengthAdjust="spacingAndGlyphs">Susceptible mosquito</text>
<text x="470.85" y="286.8" font-size="13.5" font-family="Liberation Sans" font-weight="bold">(d)</text>
<text x="491.46" y="286.8" font-size="14.2" font-family="Liberation Serif" textLength="97.85" lengthAdjust="spacingAndGlyphs">Infected mosquito</text>
<text x="104.45" y="447.9" font-size="13.5" font-family="Liberation Sans" font-weight="bold">(e)</text>
<text x="124.32" y="447.9" font-size="14.2" font-family="Liberation Serif" textLength="102.36" lengthAdjust="spacingAndGlyphs">Susceptible human</text>
<text x="479.25" y="447.9" font-size="13.5" font-family="Liberation Sans" font-weight="bold">(f)</text>
<text x="496.11" y="447.9" font-size="14.2" font-family="Liberation Serif" textLength="84.34" lengthAdjust="spacingAndGlyphs">Infected human</text>
<text x="97.5" y="601.8" font-size="13.5" font-family="Liberation Sans" font-weight="bold">(g)</text>
<text x="118.11" y="601.8" font-size="14.2" font-family="Liberation Serif" textLength="115.87" lengthAdjust="spacingAndGlyphs">Susceptible mosquito</text>
<text x="470.85" y="601.8" font-size="13.5" font-family="Liberation Sans" font-weight="bold">(h)</text>
<text x="491.46" y="601.8" font-size="14.2" font-family="Liberation Serif" textLength="97.85" lengthAdjust="spacingAndGlyphs">Infected mosquito</text>
</svg>
</body></html>
